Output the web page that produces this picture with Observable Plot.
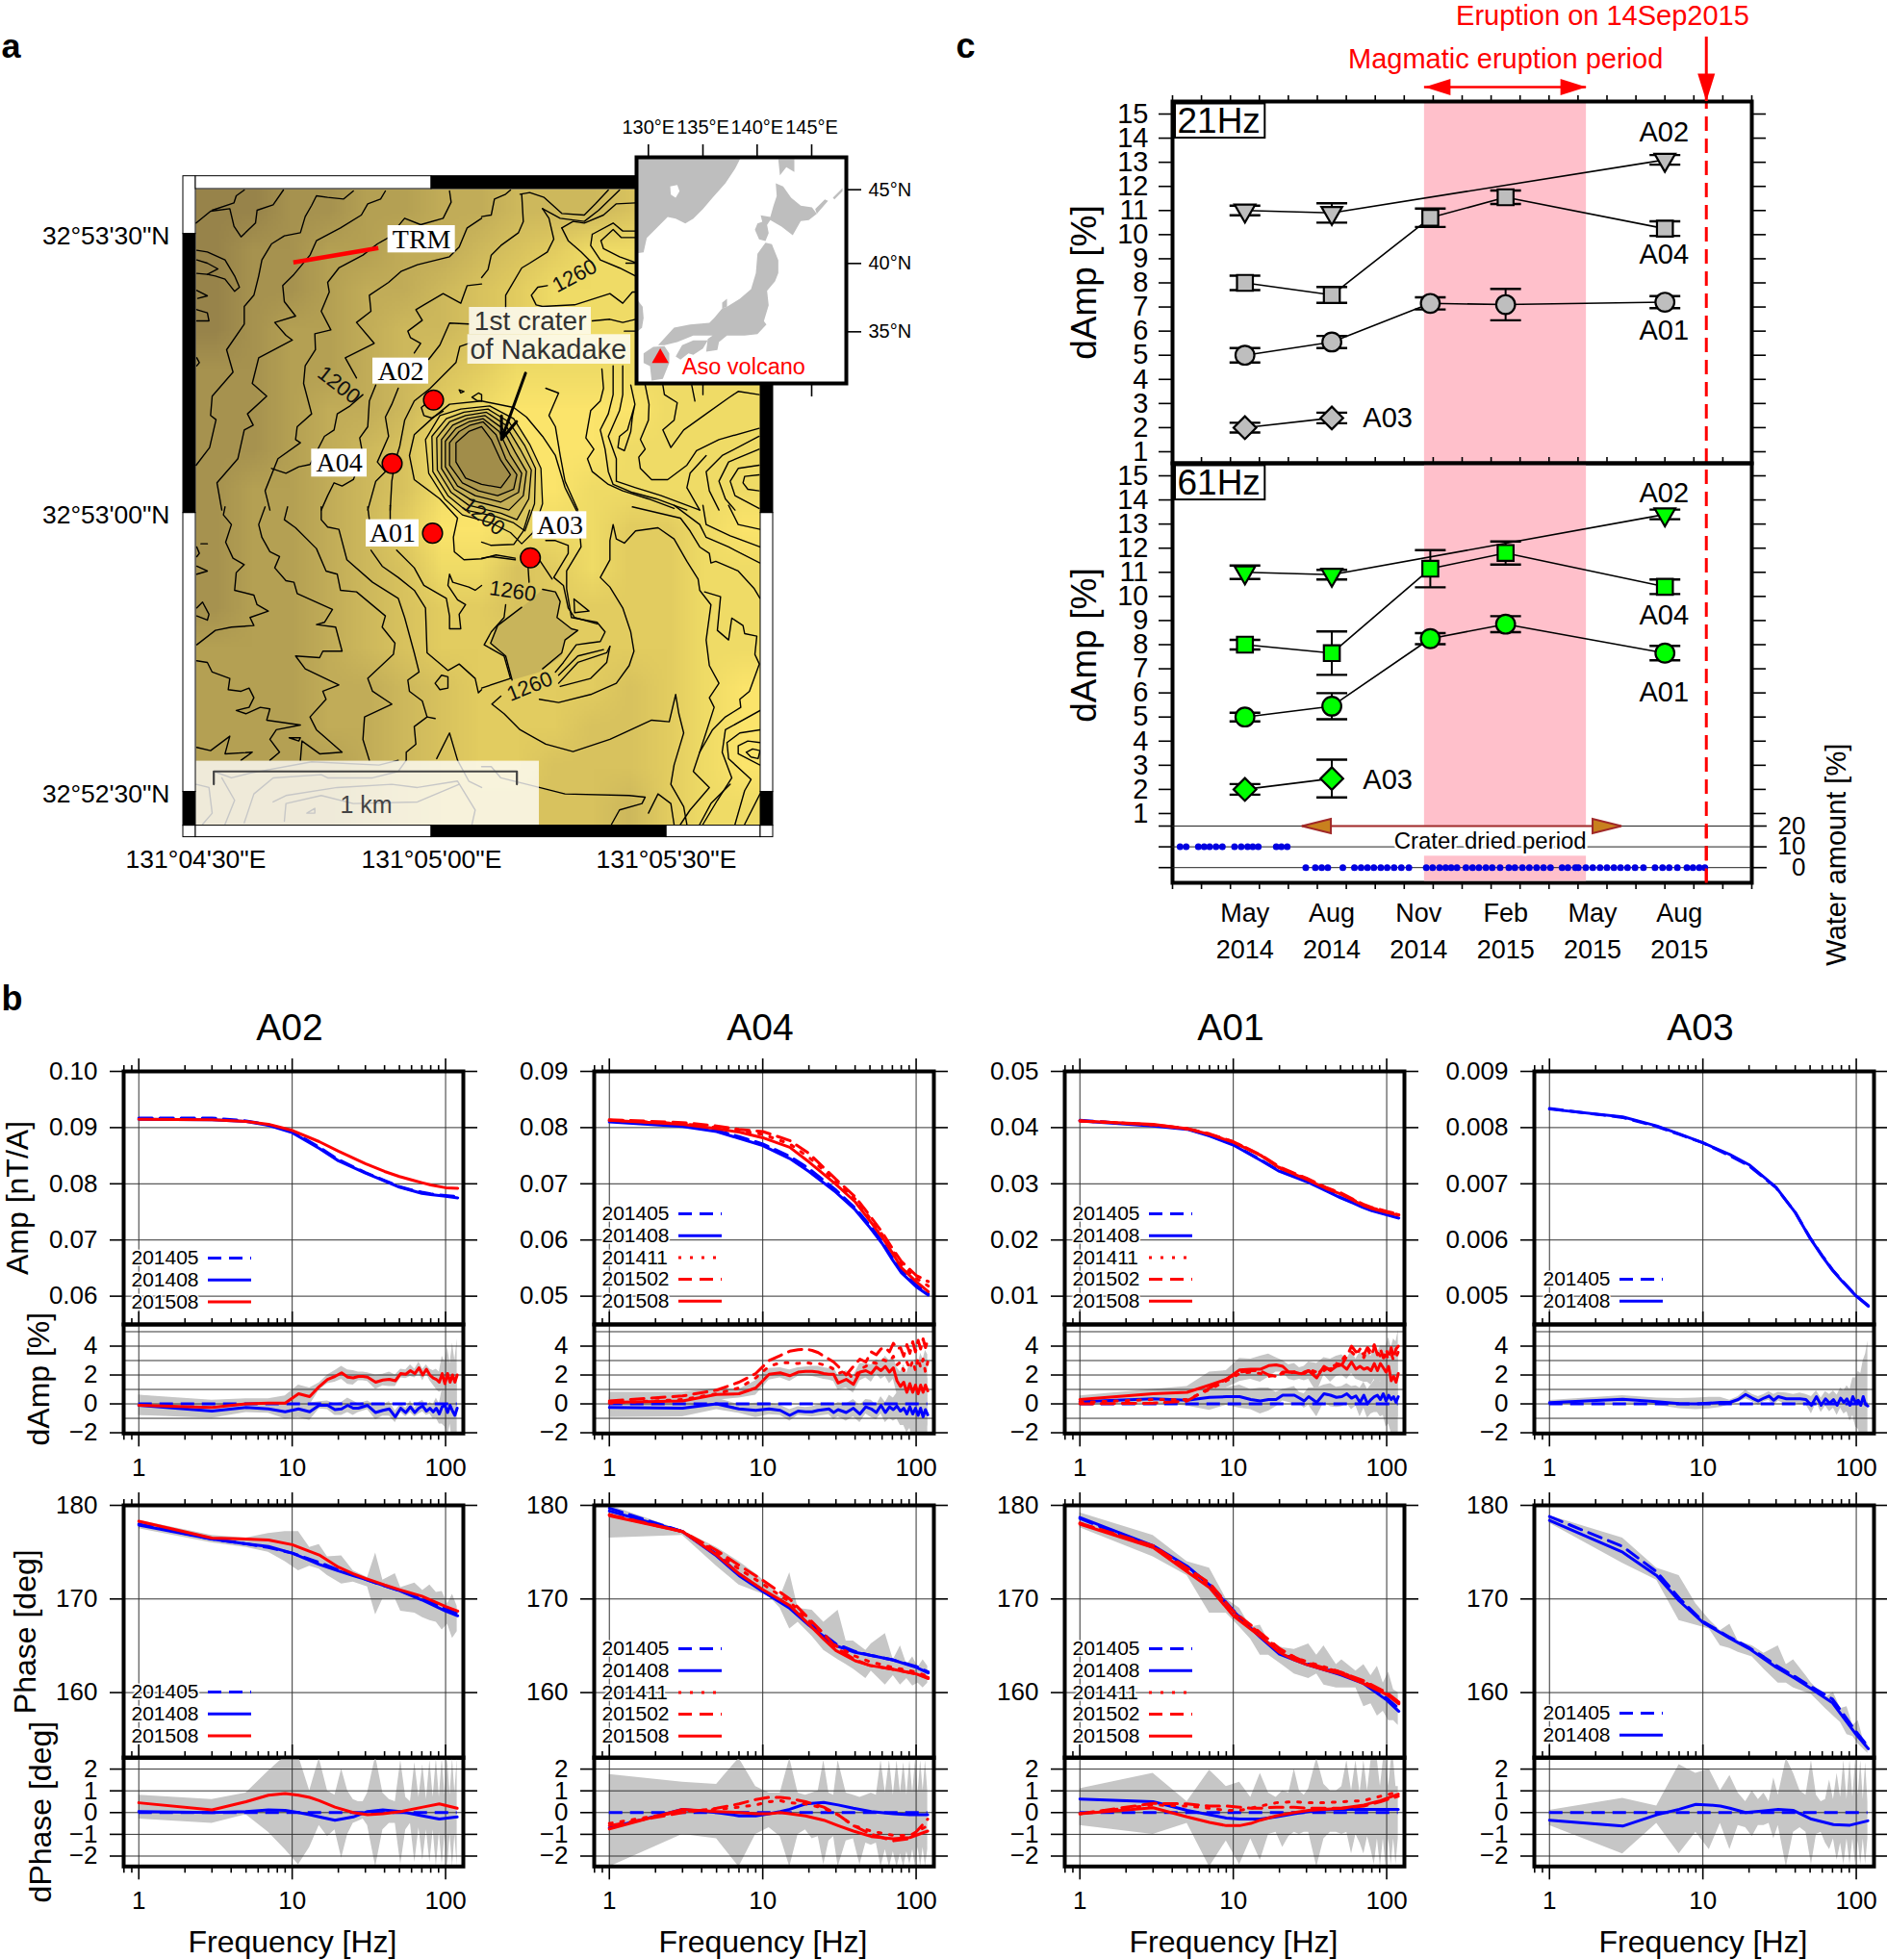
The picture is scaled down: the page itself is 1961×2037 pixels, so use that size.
<!DOCTYPE html>
<html><head><meta charset="utf-8">
<script src="https://cdn.jsdelivr.net/npm/d3@7"></script>
<script src="https://cdn.jsdelivr.net/npm/@observablehq/plot@0.6"></script>
<style>html,body{margin:0;padding:0;background:#fff}#root{position:relative;width:1961px;height:2037px;overflow:hidden;background:#fff}</style>
</head><body><div id="root"></div>
<script>
// ---------- panel c values ----------
const monthsAll=[2.5,5.5,8.9,11.5,17], monthsA02=[2.5,5.5,17], monthsA03=[2.5,5.5];
const d21A02=[11.0,10.9,13.1], e21A02=[.2,.4,.2];
const d21A04=[8.0,7.5,10.7,11.55,10.25], e21A04=[.3,.33,.38,.28,.3];
const d21A01=[5.0,5.55,7.15,7.1,7.2], e21A01=[.3,.25,.25,.65,.25];
const d21A03=[2.0,2.4], e21A03=[.2,.22];
const d61A02=[11.0,10.9,13.4], e61A02=[.28,.2,.2];
const d61A04=[8.0,7.65,11.15,11.8,10.4], e61A04=[.2,.9,.77,.48,.3];
const d61A01=[5.0,5.45,8.25,8.85,7.65], e61A01=[.18,.54,.23,.33,.3];
const d61A03=[2.0,2.45], e61A03=[.22,.78];
const waterWet=[.26,.47,.89,1.09,1.28,1.5,1.72,2.14,2.37,2.59,2.77,2.96,3.58,3.76,3.96];
const waterDry=[4.6,4.93,5.15,5.36,5.88,6.28,6.51,6.73,6.95,7.19,7.41,7.65,7.9,8.16,8.76,8.98,9.22,9.43,9.62,9.82,10.13,10.36,10.58,10.82,11.04,11.31,11.61,11.82,12.08,12.32,12.57,12.81,13.05,13.45,13.65,13.91,14.01,14.27,14.51,14.76,15,15.24,15.47,15.71,15.97,16.26,16.66,16.92,17.15,17.43,17.76,17.97,18.19,18.38];
const monthTicks=[...Array(21).keys()];
const monthLabels=[[2.5,"May","2014"],[5.5,"Aug","2014"],[8.5,"Nov","2014"],[11.5,"Feb","2015"],[14.5,"May","2015"],[17.5,"Aug","2015"]];

// ---------- panel b values ----------
const ampF=[1,3,5,7,10,15,20,30,40,50,60,70,80,100,120];
const ampA02_201405=[.0917,.0917,.0912,.0905,.0893,.0865,.0843,.0820,.0806,.0795,.0789,.0785,.0782,.0779,.0777];
const ampA02_201408=[.0915,.0914,.0911,.0904,.0891,.0863,.0841,.0819,.0805,.0794,.0788,.0783,.0781,.0778,.0775];
const ampA02_201508=[.0915,.0914,.0911,.0906,.0895,.0875,.0858,.0836,.0822,.0813,.0807,.0802,.0798,.0793,.0792];
const ampA04_201405=[.0812,.0804,.0795,.0784,.0771,.0749,.0727,.0689,.0657,.0626,.0597,.0568,.0545,.0520,.0504];
const ampA04_201408=[.0810,.0802,.0793,.0781,.0768,.0745,.0722,.0685,.0654,.0622,.0594,.0565,.0542,.0517,.0502];
const ampA04_201411=[.0813,.0807,.0800,.0795,.0788,.0771,.0747,.0704,.0673,.0639,.0610,.0582,.0557,.0532,.0518];
const ampA04_201502=[.0814,.0809,.0803,.0797,.0793,.0777,.0754,.0708,.0677,.0643,.0614,.0585,.0562,.0537,.0526];
const ampA04_201508=[.0813,.0806,.0798,.0792,.0782,.0765,.0739,.0699,.0668,.0634,.0605,.0577,.0551,.0526,.0508];
const ampA01_201405=[.0413,.0404,.0398,.0386,.0370,.0343,.0323,.0305,.0289,.0276,.0267,.0259,.0253,.0246,.0240];
const ampA01_201408=[.0412,.0403,.0397,.0385,.0369,.0342,.0322,.0304,.0288,.0275,.0266,.0258,.0252,.0245,.0239];
const ampA01_201411=[.0412,.0405,.0398,.0388,.0375,.0351,.0329,.0309,.0293,.0283,.0272,.0263,.0257,.0250,.0245];
const ampA01_201502=[.0412,.0405,.0398,.0389,.0375,.0352,.0330,.0310,.0294,.0284,.0273,.0264,.0258,.0251,.0246];
const ampA01_201508=[.0412,.0406,.0398,.0388,.0374,.0351,.0328,.0308,.0292,.0282,.0271,.0262,.0256,.0249,.0244];
const ampA03_201405=[.00834,.00818,.00802,.00788,.00773,.00750,.00732,.00693,.00649,.00604,.00572,.00547,.00529,.00501,.00483];
const ampA03_201408=[.00833,.00819,.00803,.00789,.00773,.00752,.00734,.00694,.00649,.00603,.00571,.00546,.00528,.00500,.00482];

const fGrid=[1,3,5,7,9,11,13,15,17,19,21,23,25,27,29,31,35,39,43,47,51,55,59,63,67,71,75,79,83,87,91,95,99,103,107,111,115,119];
const dAmpA02_201408=[-.1,-.5,-.25,-.35,-.55,-.35,-.55,-.1,-.1,-.4,-.35,-.1,-.3,-.3,-.2,-.1,-.6,-.45,-.35,-.9,-.3,-.6,-.2,-.6,-.3,-.15,-.5,-.3,-.55,-.3,-.7,-.2,-.1,-.6,-.1,-.5,-.8,-.3];
const dAmpA02_201508=[-.1,-.25,0,.05,.05,.7,.5,1.2,1.7,1.9,2.15,1.85,1.8,1.9,1.9,1.85,1.5,1.65,1.7,1.6,2.1,2.05,2.3,2.1,2.5,2,2.4,2,1.8,1.7,1.5,2.1,1.4,2.1,1.5,2,1.5,2];
const dAmpErrA02=[.7,.5,.35,.3,.5,.6,.6,.25,.3,.4,.45,.5,.5,.3,.3,.3,.5,.4,.5,.4,.3,.3,.4,.3,.4,.4,.3,.4,.5,.7,.7,1.2,1.5,1.8,1.3,2.2,1.5,2.5];
const dAmpA04_201408=[-.25,-.3,0,-.35,-.45,-.35,-.45,-.8,-.5,-.55,-.55,-.45,-.4,-.35,-.6,-.4,-.6,-.3,-.7,-.2,-.35,-.6,-.1,-.6,-.2,-.4,-.15,-.5,-.3,-.7,-.2,-.7,-.3,-.8,-.3,-.9,-.4,-.75];
const dAmpA04_201411=[.05,.3,.7,1.1,1.8,2.6,2.85,2.85,2.8,2.85,2.8,2.8,2.7,2.6,2.4,2.1,2.3,1.7,2.4,2.6,2.9,2.8,3.1,3,2.9,3.3,2.7,2.9,2.3,2.9,2.4,3,2.3,3.2,2.5,3.1,2.2,2.9];
const dAmpA04_201502=[.2,.55,.95,1.5,2.1,3,3.35,3.65,3.75,3.8,3.7,3.55,3.3,3.1,2.9,2.6,2,2.6,3.1,2.9,3.6,3.4,3.8,3.9,3.6,4.2,3.8,3.9,3.3,4.1,3.5,4.3,3.6,4.4,3.8,4.5,3.9,4.4];
const dAmpA04_201508=[.1,.2,.65,.7,1.1,2.05,2.15,1.95,2.2,2.25,2.25,2.2,2.1,2.05,2.05,1.45,1.7,1.35,2.2,2.3,2.1,2.55,2.3,2.6,2.2,2.5,1.6,1.2,1.5,.8,1.4,.8,1.3,.7,1.3,.8,1.3,.9];
const dAmpErrA04=[.7,.6,.4,.3,.5,.4,.35,.4,.3,.3,.35,.4,.4,.4,.5,.5,.6,.6,.6,.5,.6,.5,.6,.7,.8,.8,.9,1,1.2,1.3,1.5,1.7,1.8,2,2.2,2.3,2.4,2.5];
const dAmpA01_201408=[.15,.35,.25,.45,.5,.5,.3,.2,.3,.3,.6,.6,.6,.4,.2,.5,.1,.7,.6,.45,.5,.7,.4,.55,.1,.6,0,.3,.5,.6,.3,.7,.2,.6,.3,.5,.1,.5];
const dAmpA01_201411=[.1,.3,.3,1,1.6,2.1,2.2,2.1,1.9,2,2.1,2.1,2.2,2.2,2.1,2.4,2.2,2.3,2.6,2.7,3,3.5,3.6,3.3,3.8,3.2,3.8,3.3,3.9,3.6,3.3,3,3.8,3.3,3.5,3,3.2,3.6];
const dAmpA01_201502=[0,.05,.2,1.1,1.7,2.2,2.3,2.3,2,1.9,2.2,2.2,2.2,2,2.2,2.3,2,2.5,2.4,2.8,2.7,3.3,4,3.6,3.7,3.4,3.9,3.6,4.1,3.4,3.8,3.2,3.4,3.1,3.9,3.2,3.8,4];
const dAmpA01_201508=[.3,.7,.8,1.3,1.7,2.35,2.4,2.4,2.65,2.7,2.6,2.2,2.2,2.1,2.1,2.3,1.8,2.6,2.3,2.6,2.7,2.4,2.9,2.4,2.6,2.4,2.5,2.3,2.8,2.3,2.8,2.5,2.2,2.6,1.6,1.9,1.5,2.1];
const dAmpErrA01=[.25,.3,.4,.9,.6,.8,.7,.9,.8,.5,.4,.5,.6,.4,.5,.6,1,.6,.8,.7,.7,.7,.8,.7,1,.9,1,1,1.1,1.2,1.2,1.5,1.8,2,2.3,2.6,2.8,3];
const dAmpA03_201408=[.08,.32,.15,.02,0,.05,.1,.1,.3,.65,.4,.2,.4,.55,.25,.5,.35,.35,.35,.3,-.1,.5,-.1,.35,.05,.3,-.1,.4,.1,.35,-.1,.5,.1,.25,-.1,.5,-.05,-.15];
const dAmpErrA03=[.15,.25,.25,.35,.4,.4,.35,.15,.2,.3,.25,.3,.25,.3,.4,.3,.4,.3,.4,.35,.6,.4,.5,.5,.6,.6,.7,.7,.8,.9,1.1,1.3,1.7,2,2.2,2.5,3.5,4.5];

const phaseF=[1,3,5,7,10,15,20,25,30,40,50,70,100,120];
const phaseA02_201405=[178,176.4,175.9,175.5,174.9,173.9,173.1,172.6,172.1,171.4,170.9,170.1,169,168.4];
const phaseA02_201408=[177.9,176.4,175.9,175.6,174.9,173.7,173,172.5,172.1,171.4,170.9,169.9,168.7,168.2];
const phaseA02_201508=[178.3,176.5,176.4,176.3,175.8,174.7,173.4,172.7,172.2,171.5,171,170.3,169.2,168.7];
const phaseA04_201405=[179.7,177.2,174.8,172.7,170.9,169.1,167.4,166.2,165.2,164.4,164,163.5,162.8,162.2];
const phaseA04_201408=[179.4,177.2,174.6,172.5,170.8,169,167.2,166,165,164.3,164,163.5,162.7,162.1];
const phaseA04_201411=[179,177.2,175,173.2,171.6,169.7,167.7,166.2,165,163.9,163.3,162.7,162.2,161.7];
const phaseA04_201502=[179,177.2,175.2,173.6,172,170,167.9,166.3,164.8,163.5,162.9,162.5,162,161.6];
const phaseA04_201508=[178.9,177.2,174.7,172.7,171,169.3,167.3,165.7,164.5,163.4,162.9,162.5,162,161.5];
const phaseA01_201405=[178.6,175.5,173.3,171.6,168.8,166,164.3,163.6,163.1,162.5,162,161.1,159.4,158.3];
const phaseA01_201408=[178.7,175.7,173.5,171.5,168.7,165.9,164.1,163.5,163,162.4,161.9,161,159.2,158];
const phaseA01_201411=[178.1,175.6,173.1,171.5,168.5,166.3,164.6,163.8,163.3,162.7,162.2,161.2,159.9,158.9];
const phaseA01_201502=[178.1,175.7,173.3,171.7,168.7,166.4,164.7,163.8,163.2,162.6,162.2,161.3,160,159];
const phaseA01_201508=[178,175.5,172.9,171.2,168.2,166,164.3,163.5,163,162.4,162,161,159.8,158.8];
const phaseA03_201405=[178.8,175.6,172.9,170.1,167.6,165.9,164.8,163.8,162.9,161.7,160.7,159.3,155.8,154.2];
const phaseA03_201408=[178.4,175,172.5,169.8,167.5,165.8,164.7,163.6,162.7,161.5,160.5,158.9,155.5,154];

const bandF=[1,3,5,7,9,11,13,15,17,21,25,31,35,39,47,51,63,71,79,87,95,103,111,119];
const phaseHiA02=[178.4,176.8,176.5,177,177.2,177.2,175.5,175.8,174.5,174.6,173,172.3,174.9,172,172.7,171.2,171.7,170.9,171.5,170.7,170.8,169.5,170.5,169.2];
const phaseLoA02=[177.5,176,175.5,175,174,173,173.5,173.2,172.5,171.6,171.8,171.3,168.3,170,170,168.7,168.5,168,167.7,167.5,166.7,167.3,165.8,166.5];
const phaseHiA04=[180,177.3,175.5,174,172.7,171.5,170.2,172.8,169,168.8,167.5,168.8,165.5,165.5,164.5,165.2,166.3,163.5,165,163,163.8,162.7,163.5,162.8];
const phaseLoA04=[176.5,176.8,173.5,171.5,170.8,170.3,169,166.8,167.5,166,164.5,163.5,163,162.5,161.5,162.3,160.8,161.8,160.8,161.5,160.7,161,160.5,161];
const phaseHiA01=[179.2,176.8,174,173.3,170,169,167,167.2,165.5,164.8,164.6,165.2,164,165,163,163.5,162.3,163,161.8,162.8,161,162.2,160.3,160];
const phaseLoA01=[177.6,174.5,172.5,168.5,168.5,167,165.7,164,164,162.9,162,161.5,162,160.8,160.5,160.5,160.5,158.5,158.8,157.5,158,157,157,156.5];
const phaseHiA03=[178.9,176.5,173.3,172.5,169.5,167.8,166.6,167.3,165.5,165,164.2,165,163,163.5,161.8,161,159.5,160,158.3,158.5,156.5,157,155,154.5];
const phaseLoA03=[178.1,173.8,172,167.7,167.2,166.8,165,164.7,164.3,163.8,162.5,161,161,160.5,160,159.8,158.3,157.5,156.8,155.5,155.3,154.5,154,153.5];

const dPhaseF=[1,3,5,7,9,11,13,15,19,25,31,39,51,71,91,119];
const dPhaseA02_201408=[.05,0,.05,.12,.1,0,-.1,-.2,-.35,-.2,.05,.12,.05,-.15,-.3,-.2];
const dPhaseA02_201508=[.45,.12,.5,.8,.88,.8,.7,.55,.25,0,-.1,-.05,.05,.25,.4,.2];
const dPhaseA04_201408=[-.7,.15,0,-.15,-.15,-.05,.05,.15,.4,.47,.35,.2,.05,-.05,-.1,-.1];
const dPhaseA04_201411=[-.5,.05,.15,.25,.35,.5,.55,.45,.4,.2,-.1,-.6,-.85,-1.05,-1.05,-.6];
const dPhaseA04_201502=[-.6,0,.2,.4,.6,.7,.7,.65,.5,.25,-.1,-.6,-1,-1.3,-1.2,-.3];
const dPhaseA04_201508=[-.75,.15,.05,0,-.05,-.05,0,-.05,-.15,-.35,-.6,-.85,-1.1,-1.2,-1.15,-.85];
const dPhaseA01_201408=[.62,.5,.1,-.1,-.25,-.3,-.3,-.3,-.2,-.05,.05,.12,.15,.15,.15,.15];
const dPhaseA01_201411=[-.05,.35,.3,.2,.1,.1,.2,.3,.45,.5,.45,.45,.5,.55,.75,.95];
const dPhaseA01_201502=[-.05,.42,.4,.3,.3,.25,.2,.2,.25,.25,.2,.2,.2,.3,.5,.75];
const dPhaseA01_201508=[-.05,.22,-.2,-.45,-.6,-.6,-.5,-.35,-.15,0,.1,.15,.2,.35,.55,.85];
const dPhaseA03_201408=[-.35,-.62,-.1,.15,.38,.35,.3,.2,0,.08,.15,.1,-.3,-.55,-.58,-.38];
const dPhaseHiA02=[.8,.6,.9,1.9,2.6,2.6,1,2.5,1,.8,2,1,.6,.5,.5,.9,2.6,.9,.6,.5,2.4,.7,.5,2.3,.7,2.2,.6,2.4,.7,2.5,.7,2.5,.8,2.5,.8,2.5,.9,2.5];
const dPhaseLoA02=[-.3,-.5,-.1,-.9,-1.7,-2.4,-1.6,-.6,-1.1,-.8,-2.1,-1,-.5,-.4,-.3,-.6,-2.5,-.8,-.5,-.5,-2.4,-.8,-.5,-2.3,-.7,-2.2,-.8,-2.3,-.8,-2.5,-.9,-2.4,-1,-2.5,-1,-2.5,-1,-2.5];
const dPhaseHiA04=[1.75,1.4,1.3,2.5,1.2,.9,.9,2.5,.9,.8,.9,1,2.4,.9,.8,2.4,.9,.8,.7,.8,.9,.8,2.4,.9,2.4,.8,2.4,.9,2.3,.8,2.4,.9,2.4,.9,2.4,1,2.4,1];
const dPhaseLoA04=[-2.5,-1,-1.2,-2.5,-1,-.7,-1.1,-2.5,-1,-.8,-1.2,-1.1,-2.4,-1.3,-1.1,-2.5,-1.3,-1.2,-2.4,-1.4,-1.5,-1.4,-2.5,-1.7,-2.5,-1.8,-2.5,-1.9,-2.5,-1.8,-2.4,-1.7,-2.5,-1.6,-2.5,-1.6,-2.5,-1.7];
const dPhaseHiA01=[1.1,1.8,.5,1.95,1.2,1.4,.7,1.8,.9,.7,1,.9,2,1,.8,1.1,2.5,1.3,1,1,1.2,2.4,1,2.4,.9,2.4,1,2.4,2.4,2.4,1.2,2.4,2.4,1.2,2.4,2.4,1.2,1.2];
const dPhaseLoA01=[-.6,-1,-.5,-2.5,-1.3,-2.4,-1.2,-2.2,-1,-.9,-1.6,-1.1,-.9,-1,-.9,-.9,-2.5,-1.2,-.9,-.9,-1,-.9,-1.9,-1,-1.4,-1.9,-1.1,-1.7,-2.4,-1.2,-2.5,-1.2,-2.5,-1.2,-2.4,-1.2,-2.4,-1.2];
const dPhaseHiA03=[.1,.65,.3,2.2,1.8,2,1,1.7,.9,.5,1,.6,.9,.5,1.6,.8,2.5,1.8,1,.8,2.4,.8,.5,.6,1.5,.6,1.8,.7,2.4,.6,2.4,.7,2.4,.8,2.4,.6,2.3,.5];
const dPhaseLoA03=[-.6,-1.9,-.5,-1.9,-.9,-1.7,-.5,-1.7,-.6,-.7,-1.1,-.6,-.6,-.5,-1.2,-.6,-2.5,-.9,-.7,-.9,-2.4,-1,-.9,-1.4,-1.7,-1.2,-2.2,-1.4,-2.4,-1.2,-2.4,-1.2,-2.4,-1.3,-2.4,-1.2,-2.4,-1.2];

// ---------- panel a values: elevation shade grid, contours read in map-grid units ----------
const shadeCols=15, shadeRows=16;
const shadeGrid=[
1,1,2,2,3,3,4,4,5,5,5,6,7,8,9,
1,2,2,3,3,4,4,5,6,7,8,8,8,8,9,
1,2,2,3,4,4,5,6,7,8,8,8,8,8,8,
1,2,3,3,4,5,5,6,7,8,8,8,8,8,8,
2,2,3,3,4,5,6,7,8,8,8,8,8,8,8,
2,2,3,4,4,5,7,8,9,9,9,9,8,8,8,
2,2,3,4,5,6,8,9,9,9,9,8,8,8,8,
2,3,3,4,5,6,8,9,9,9,8,8,8,8,8,
2,3,3,4,5,7,9,9,8,8,8,7,7,8,9,
2,3,3,4,5,6,8,8,6,7,8,7,7,8,8,
2,3,3,4,5,6,7,7,6,7,7,7,7,8,8,
3,3,3,4,5,6,7,7,7,7,7,7,7,8,8,
3,3,3,4,4,5,6,7,7,7,7,6,7,8,9,
3,3,3,4,4,5,6,7,7,7,6,6,7,8,9,
3,3,3,3,4,5,6,7,7,6,6,6,7,8,9,
3,3,3,3,4,5,6,6,6,6,6,5,7,8,8];
const contoursNW=[
[[10,125],[55,88],[115,80],[128,135],[150,168],[195,125],[200,85],[250,68],[282,22]],
[[160,22],[135,40],[128,62],[60,85]],
[[12,210],[45,215],[100,240],[130,290],[145,325],[130,338],[100,300],[70,290],[45,285],[12,282]],
[[12,240],[45,250],[78,268],[45,285]],
[[12,335],[45,352],[15,360]],[[12,395],[45,405],[50,430],[12,430]],[[12,545],[20,560],[12,570]],
[[500,25],[470,50],[420,45],[385,40],[370,70],[350,105],[335,155],[285,165],[245,190],[215,240],[205,290],[190,350],[160,385],[160,440],[105,520],[125,590],[60,665],[55,725],[72,738],[52,825],[10,880]],
[[600,25],[585,50],[545,65],[525,100],[460,140],[385,180],[365,225],[315,285],[280,320],[285,370],[320,415],[255,435],[290,475],[310,490],[205,545],[185,625],[230,665],[170,720],[188,755],[160,770],[140,860],[75,935],[90,1020]],
[[800,25],[805,60],[780,110],[710,130],[660,110],[610,170],[575,190],[530,225],[455,265],[420,310],[425,340],[400,400],[430,458],[380,470],[382,520],[350,570],[345,625],[370,720],[325,760],[320,800],[335,810],[265,860],[225,960],[240,1020]],
[[900,110],[855,140],[830,200],[800,230],[700,255],[650,275],[610,310],[550,350],[555,400],[510,435],[565,500],[475,545],[510,608]],
[[530,660],[490,695],[450,720],[440,770],[410,790],[365,878],[330,885],[290,905],[245,890]],
[[900,315],[855,320],[835,375],[780,345],[720,380],[695,395],[715,428],[670,462],[678,482],[710,500],[690,530]],
[[570,630],[550,680],[545,760],[520,795],[530,850],[500,925],[465,945],[440,935],[420,975],[400,1020]],
[[860,440],[800,437],[770,505],[735,550]],
[[640,640],[620,690],[600,730],[610,790],[575,870],[600,900],[570,930],[545,1020]],
[[860,500],[832,510],[820,560],[740,640],[690,680],[660,740],[645,820],[630,870],[620,930],[615,1020]],
[[725,690],[712,700],[720,725],[745,733],[780,712]],
[[830,645],[845,650],[835,655],[830,645]],[[870,668],[890,655],[900,660],[900,680],[885,678],[870,668]]];
const contoursNE=[
[[0,105],[30,100],[40,50],[75,35],[90,22]],
[[125,35],[130,120],[115,155],[60,195],[30,225],[20,270],[0,295]],
[[120,35],[150,30],[195,45],[250,95],[320,100],[355,65],[395,22]],
[[190,80],[210,110],[225,175],[205,215],[150,250],[125,265],[75,350],[75,390]],
[[190,80],[245,110],[320,120],[365,85],[430,22]],
[[250,140],[285,120],[320,125],[380,100],[420,65],[480,62]],
[[250,140],[270,180],[310,215],[345,250]],
[[345,160],[410,125],[440,150],[480,150]],
[[372,180],[410,145],[435,170],[480,170]],
[[372,180],[380,205],[430,230],[480,248]],
[[345,160],[340,195],[370,240],[430,265],[480,290]],
[[450,250],[480,250]],
[[205,320],[175,325],[155,350],[170,380],[190,385],[290,380],[400,345],[440,375],[470,340],[485,340]],
[[345,430],[400,425],[440,435],[480,425]],[[445,462],[480,462]],
[[375,580],[380,640],[370,680],[340,710],[325,795],[350,830],[330,860],[345,900],[395,940],[440,960],[520,985],[600,1015]],
[[410,570],[410,660],[395,720],[370,770],[385,830],[395,900],[410,940],[470,965],[545,985],[640,1020]],
[[440,570],[440,660],[430,710],[395,790],[420,860],[420,930],[480,950],[560,975],[680,1020]],
[[465,630],[478,690],[455,770],[430,790],[425,825],[445,835],[465,775],[470,730],[478,690]],
[[510,630],[522,690],[520,740],[495,800],[510,830],[490,855],[495,890],[530,925],[580,925],[640,880],[670,835],[740,800],[865,765]],
[[565,630],[570,660],[610,685],[600,740],[565,770],[590,825],[630,770],[700,720],[770,670],[800,650],[865,660]],
[[655,630],[665,680]],[[690,630],[690,660]],
[[865,910],[820,915],[815,935],[830,955],[865,960]],
[[865,880],[800,890],[775,930],[790,975],[865,1015]],
[[865,830],[770,870],[740,930],[760,985],[790,1020]],
[[865,790],[750,850],[700,900],[710,960],[740,1020]],
[[700,850],[650,905],[640,950],[680,1020]],
[[200,640],[240,655],[210,725],[230,760],[245,850],[260,930],[300,1020]]];
const contoursSW=[
[[100,5],[95,30],[120,60],[102,115],[125,165],[160,185],[135,210],[130,265],[190,280],[200,310],[235,330],[178,350],[190,375],[120,380],[70,390],[12,435]],
[[225,5],[205,60],[215,100],[240,145],[270,160],[255,195],[290,235],[315,240],[325,275],[380,300],[435,325],[410,365],[385,372],[445,380],[465,455],[405,455],[395,475],[320,470],[350,510],[455,560],[405,580],[415,605],[365,660],[385,700],[465,770],[395,775],[340,735],[335,795]],
[[295,5],[285,45],[320,70],[385,135],[415,205],[450,215],[460,265],[510,270],[600,345],[590,380],[630,430],[625,465],[545,540],[560,580],[620,620],[535,660],[530,730],[550,795]],
[[400,5],[400,45],[420,68],[455,75],[480,170],[560,240],[640,290],[660,350],[690,460],[705,520],[670,545],[675,580],[715,610],[730,660],[690,690],[695,745],[665,770],[665,795],[640,830],[560,850],[420,850],[400,840],[250,850],[190,900],[160,990]],
[[545,5],[550,45]],
[[555,140],[590,190],[640,225],[690,265],[725,320],[730,460],[795,515],[830,495],[880,540],[890,585],[900,575]],
[[615,0],[615,45]],[[635,140],[690,195],[720,250],[790,290],[800,345],[800,385],[835,385],[830,340],[850,310],[825,295],[795,250],[800,215],[810,240],[860,255],[880,265],[900,250]],
[[755,555],[770,575],[795,570],[795,535],[775,530],[755,555]],
[[12,320],[30,302],[50,340],[45,358],[12,345]],[[12,130],[20,150],[12,160]],[[12,190],[45,205],[12,215]],[[25,120],[45,120]],
[[12,485],[45,490],[60,520],[115,540],[110,575],[150,580],[175,570],[190,600],[175,630],[135,640],[165,650],[210,630],[240,635],[230,670],[335,685],[260,700],[240,730],[270,770],[240,795]],
[[12,755],[55,765],[115,720],[100,775],[185,770],[150,795]],
[[300,725],[335,725],[330,735],[300,725]],[[730,660],[755,665]],
[[760,790],[800,710],[825,795],[860,860],[900,880]],
[[65,830],[120,850],[180,835],[370,800],[580,810],[640,795]],
[[250,925],[290,905],[450,880],[620,870],[700,880],[825,860],[880,950],[870,995]],
[[285,985],[290,930],[400,905],[500,930],[700,925],[830,870]],
[[90,850],[130,920],[100,995]],[[10,870],[50,880],[60,960],[30,995]],[[355,960],[380,945],[380,960],[355,960]]];
const contoursSE=[
[[180,605],[240,615],[340,590],[420,555],[460,500],[475,455],[465,395],[440,320],[400,255],[370,225],[400,170],[400,110],[410,60],[420,105],[445,118],[480,80],[550,70],[600,105],[640,175],[675,230],[680,265],[715,310],[700,420],[710,500],[740,555],[710,600],[725,630],[680,770],[660,830],[710,880],[650,950],[620,995]],
[[60,595],[32,620],[70,650],[120,700],[200,745],[285,768],[400,730],[530,670],[585,675],[605,590],[615,650],[630,710],[600,810],[590,870],[630,940],[640,995]],
[[0,815],[30,815],[60,850],[180,880],[260,900],[460,905],[510,910],[500,930],[430,950],[405,995]],
[[520,960],[550,900],[590,930],[600,995]],
[[190,262],[230,270],[245,300],[235,350],[280,385],[300,390],[260,420],[250,460],[190,510]],
[[75,310],[70,350],[30,395],[8,435],[70,470],[90,540],[0,570]],
[[125,318],[50,375],[28,430],[75,470],[95,545]],
[[0,165],[30,160],[105,170]],[[145,195],[148,240]],[[0,115],[30,125],[100,122],[130,80],[150,15]],
[[225,225],[270,150],[270,125],[230,110],[200,110]],
[[300,20],[310,130],[265,205],[265,260],[280,350],[360,365],[385,395],[370,425],[330,430],[295,435],[255,490],[230,520]],
[[225,225],[255,250],[270,320],[290,350],[360,370]],
[[288,292],[335,330],[290,335],[288,292]],
[[400,440],[390,460],[300,490],[240,555]],[[400,440],[390,490],[340,540],[245,565]],[[380,450],[300,470],[240,530]],
[[470,5],[620,40],[650,80],[680,130],[710,150],[715,180],[730,175],[800,205],[850,260],[868,290]],
[[600,0],[680,60],[700,100],[770,130],[868,180]],[[690,0],[700,60],[775,95],[868,130]],[[770,0],[800,60],[868,75]],
[[695,270],[745,285],[735,390],[770,420],[780,352],[815,375],[820,400],[858,408],[852,465],[866,495],[835,580],[805,605],[808,630],[760,660],[720,700],[680,770]],
[[825,770],[845,760],[868,765],[862,790],[840,785],[825,770]],
[[868,740],[830,735],[800,750],[800,775],[868,810]],
[[868,700],[805,710],[765,740],[770,790],[840,855],[820,890],[790,995]],
[[868,640],[760,700],[750,770],[780,850],[735,920],[690,995]],
[[775,870],[715,930],[680,995]],[[868,900],[820,995]]];
const craterRings=[
{fill:"#e8d363",pts:[[835,705],[925,695],[1000,735],[1050,815],[1085,890],[1090,1000],[1060,1090],[1025,1125],[990,1090],[930,1060],[840,1035],[785,985],[735,905],[725,800],[770,725]]},
{fill:"#dcc75f",pts:[[845,715],[920,705],[985,745],[1035,820],[1068,890],[1065,1000],[1035,1085],[1000,1060],[945,1040],[850,1020],[795,975],[748,900],[745,790],[790,735]]},
{fill:"#d0bb5b",pts:[[850,725],[915,715],[975,755],[1020,830],[1055,895],[1047,985],[1010,1050],[960,1030],[860,1005],[805,965],[762,895],[760,795],[800,745]]},
{fill:"#c4af57",pts:[[855,735],[910,725],[965,765],[1005,840],[1040,900],[1030,975],[985,1020],[950,1010],[870,990],[815,955],[775,890],[775,800],[810,755]]},
{fill:"#b8a352",pts:[[860,745],[905,735],[955,775],[990,850],[1025,905],[1015,965],[960,995],[880,975],[825,945],[787,885],[787,805],[820,765]]},
{fill:"#ab974e",pts:[[865,755],[905,745],[945,785],[975,860],[1010,910],[1000,955],[950,975],[890,960],[840,935],[800,880],[800,810],[830,775]]},
{fill:"#a18d4a",pts:[[860,775],[900,760],[930,800],[960,865],[990,910],[960,950],[900,940],[850,920],[820,870],[820,810]]}];
const craterOuter=[[900,680],[800,690],[745,735],[690,785],[675,850],[690,925],[770,985],[825,1045],[812,1105],[815,1150],[845,1175],[900,1172],[945,1160],[1005,1170]];
const craterOuter2=[[1080,1175],[1120,1235]];
const craterOuter3=[[900,680],[1000,700],[1040,730],[1090,790],[1130,850],[1160,950],[1200,1030]];
const basinSE=[[125,318],[50,375],[28,430],[75,470],[95,545],[180,520],[250,470],[260,420],[300,390],[280,385],[235,350],[245,300],[230,270],[190,262],[160,290]];
const stations=[{name:"A02",x:750,y:677,bx:[561,735],by:[546,627]},{name:"A04",x:621,y:875,bx:[370,543],by:[830,917]},{name:"A01",x:747,y:1092,bx:[540,705],by:[1050,1135]},{name:"A03",x:1052,y:1169,bx:[1060,1228],by:[1025,1110]}];
const contourLabels=[{t:"1200",x:455,y:630,r:38},{t:"1200",x:906,y:1040,r:38},{t:"1260",x:1190,y:290,r:-28},{t:"1260",x:997,y:1273,r:8},{t:"1260",x:1050,y:1570,r:-22}];
const frameBlack=[[-30,9,159,1029],[-30,9,1899,2004],[744,1476,-21,19],[1476,1770,-21,19],[744,1476,2004,2040],[1770,1809,19,1029],[1770,1809,1899,2004]];
const frameWhite=[[-30,9,-21,159],[-30,9,1029,1899],[-30,9,2004,2040],[9,744,-21,19],[9,744,2004,2040],[1476,1770,2004,2040],[1770,1809,1029,1899],[1770,1809,2004,2040]];

// ---------- inset outlines, read in inset-grid units ----------
const insetLonTicks=[[100,"130°E"],[270,"135°E"],[439,"140°E"],[609,"145°E"]];
const insetLatTicks=[[260,"45°N"],[490,"40°N"],[703,"35°N"]];
const mainland=[[63,160],[388,160],[370,195],[340,240],[300,285],[270,320],[240,350],[215,365],[185,350],[160,345],[125,380],[95,410],[85,455],[63,458]];
const lake=[[168,250],[190,245],[197,265],[185,285],[170,275]];
const korea=[[63,600],[82,625],[85,660],[80,690],[63,705]];
const hokkaido=[[497,240],[520,250],[545,285],[575,310],[610,315],[625,335],[600,355],[575,358],[550,402],[515,375],[480,355],[470,370],[475,395],[465,420],[445,415],[432,385],[440,365],[455,360],[450,340],[480,345],[490,310],[500,280]];
const sakhalin=[[505,165],[555,165],[555,205],[530,190],[510,215]];
const kurile1=[[620,320],[650,290],[660,295],[625,335]];
const kurile2=[[675,285],[705,255],[705,265],[680,290]];
const honshu=[[465,425],[485,430],[505,480],[505,520],[495,545],[470,575],[475,620],[460,670],[468,680],[440,710],[400,715],[345,715],[320,735],[315,760],[280,765],[285,725],[300,715],[240,715],[190,735],[150,745],[130,745],[180,690],[230,680],[290,675],[305,660],[330,630],[345,625],[385,600],[420,570],[435,520],[440,460]];
const noto=[[330,612],[345,600],[345,625],[330,630]];
const shikoku=[[205,745],[240,730],[285,730],[270,755],[240,775],[225,770],[200,790],[185,780]];
const kyushu=[[85,770],[115,750],[150,748],[165,770],[165,800],[145,850],[110,855],[105,810],[85,800]];
const asoPoint=[[137,785]];

// ---------- helpers ----------
const SANS="'Liberation Sans',Arial,sans-serif", SERIF="'Liberation Serif',serif";
const root=document.getElementById("root");
function put(left,top,w,h,o){
  const svg=Plot.plot({width:w,height:h,marginTop:0,marginRight:0,marginBottom:0,marginLeft:0,
    ...o,style:{position:"absolute",left:left+"px",top:top+"px",overflow:"visible",background:"transparent",color:"#000",fontFamily:SANS,fontSize:"25px"}});
  root.appendChild(svg);return svg;
}
const zip=(xs,ys)=>xs.map((x,i)=>({x,y:ys[i]}));
const hideText={fill:"none",label:null};
const STY={"201405":{stroke:"#0000ff",strokeDasharray:"14,8"},"201408":{stroke:"#0000ff"},"201411":{stroke:"#ff0000",strokeDasharray:"3,9"},"201502":{stroke:"#ff0000",strokeDasharray:"14,8"},"201508":{stroke:"#ff0000"}};
const ORDER=["201405","201408","201411","201502","201508"];
const seriesMarks=(fs,table)=>ORDER.filter(k=>table[k]).map(k=>Plot.line(zip(fs,table[k]),{x:"x",y:"y",strokeWidth:3,clip:true,...STY[k]}));
const minor=[.8,.9,2,3,4,5,6,7,8,9,20,30,40,50,60,70,80,90];
const major=[1,10,100];
const X={lo:.7966,hi:130.5};
function xTicks(anchor,labelled){
  return [Plot.axisX({anchor,ticks:minor,tickSize:7,strokeWidth:1.6,...hideText}),
    labelled?Plot.axisX({anchor,ticks:major,tickSize:14,tickPadding:12,strokeWidth:1.6,label:null,tickFormat:d=>String(d),fontSize:26})
            :Plot.axisX({anchor,ticks:major,tickSize:14,strokeWidth:1.6,...hideText})];
}
function yTicks(ticks,fmt){
  return [Plot.axisY({anchor:"left",ticks,tickSize:14,tickPadding:13,strokeWidth:1.6,label:null,tickFormat:fmt,fontSize:26}),
          Plot.axisY({anchor:"right",ticks,tickSize:14,strokeWidth:1.6,...hideText})];
}
function bPanel(left,top,h,yDomain,{ticks,fmt,under=[],over=[],lower=false,extra=[]}){
  return put(left,top,353,h,{
    x:{type:"log",domain:[X.lo,X.hi],axis:null},y:{domain:yDomain,axis:null},
    marks:[...under,Plot.ruleY(ticks.grid,{stroke:"#333",strokeWidth:1}),Plot.ruleX(major,{stroke:"#333",strokeWidth:1,clip:true}),
      ...over,...xTicks("top",false),...(lower?xTicks("bottom",true):[]),...yTicks(ticks.lab,fmt),Plot.frame({stroke:"#000",strokeWidth:4}),...extra]});
}
function legend(left,top,keys){
  const n=keys.length,h=22.7*(n-1);
  return put(left,top,125,h,{x:{domain:[0,125],axis:null},y:{domain:[0,n-1],range:[0,h],axis:null},marks:[
    Plot.text(keys,{x:()=>0,y:(d,i)=>i,textAnchor:"start",lineAnchor:"middle",fontSize:21,fill:"#000",stroke:"#fff",strokeWidth:3}),
    ...keys.map((k,i)=>Plot.ruleY([i],{x1:80,x2:125,strokeWidth:3,...STY[k]}))]});
}
const label=(t,o)=>Plot.text([t],{textAnchor:"middle",lineAnchor:"middle",fill:"#000",...o});

// ---------- panel b ----------
const cols=[
 {id:"A02",left:128,ampTicks:[.10,.09,.08,.07,.06],ampFmt:d3.format(".2f"),ampLow:.05497,
  amp:{"201405":ampA02_201405,"201408":ampA02_201408,"201508":ampA02_201508},
  dAmp:{"201408":dAmpA02_201408,"201508":dAmpA02_201508},err:dAmpErrA02,
  phase:{"201405":phaseA02_201405,"201408":phaseA02_201408,"201508":phaseA02_201508},hi:phaseHiA02,lo:phaseLoA02,
  dPhase:{"201408":dPhaseA02_201408,"201508":dPhaseA02_201508},dHi:dPhaseHiA02,dLo:dPhaseLoA02,
  legAmpTop:1306.7,legPhTop:1757.7,keys:["201405","201408","201508"],legX:136},
 {id:"A04",left:617,ampTicks:[.09,.08,.07,.06,.05],ampFmt:d3.format(".2f"),ampLow:.04497,
  amp:{"201405":ampA04_201405,"201408":ampA04_201408,"201411":ampA04_201411,"201502":ampA04_201502,"201508":ampA04_201508},
  dAmp:{"201408":dAmpA04_201408,"201411":dAmpA04_201411,"201502":dAmpA04_201502,"201508":dAmpA04_201508},err:dAmpErrA04,
  phase:{"201405":phaseA04_201405,"201408":phaseA04_201408,"201411":phaseA04_201411,"201502":phaseA04_201502,"201508":phaseA04_201508},hi:phaseHiA04,lo:phaseLoA04,
  dPhase:{"201408":dPhaseA04_201408,"201411":dPhaseA04_201411,"201502":dPhaseA04_201502,"201508":dPhaseA04_201508},dHi:dPhaseHiA04,dLo:dPhaseLoA04,
  legAmpTop:1261,legPhTop:1712.7,keys:ORDER,legX:625},
 {id:"A01",left:1105.6,ampTicks:[.05,.04,.03,.02,.01],ampFmt:d3.format(".2f"),ampLow:.00497,
  amp:{"201405":ampA01_201405,"201408":ampA01_201408,"201411":ampA01_201411,"201502":ampA01_201502,"201508":ampA01_201508},
  dAmp:{"201408":dAmpA01_201408,"201411":dAmpA01_201411,"201502":dAmpA01_201502,"201508":dAmpA01_201508},err:dAmpErrA01,
  phase:{"201405":phaseA01_201405,"201408":phaseA01_201408,"201411":phaseA01_201411,"201502":phaseA01_201502,"201508":phaseA01_201508},hi:phaseHiA01,lo:phaseLoA01,
  dPhase:{"201408":dPhaseA01_201408,"201411":dPhaseA01_201411,"201502":dPhaseA01_201502,"201508":dPhaseA01_201508},dHi:dPhaseHiA01,dLo:dPhaseLoA01,
  legAmpTop:1261,legPhTop:1712.7,keys:ORDER,legX:1114},
 {id:"A03",left:1594,ampTicks:[.009,.008,.007,.006,.005],ampFmt:d3.format(".3f"),ampLow:.004497,
  amp:{"201405":ampA03_201405,"201408":ampA03_201408},
  dAmp:{"201408":dAmpA03_201408},err:dAmpErrA03,
  phase:{"201405":phaseA03_201405,"201408":phaseA03_201408},hi:phaseHiA03,lo:phaseLoA03,
  dPhase:{"201408":dPhaseA03_201408},dHi:dPhaseHiA03,dLo:dPhaseLoA03,
  legAmpTop:1329,legPhTop:1780,keys:["201405","201408"],legX:1603}];
const GRAY="#c6c6c6";
cols.forEach((c,ci)=>{
  const first=ci===0;
  bPanel(c.left,1112.7,263,[c.ampLow,c.ampTicks[0]],{ticks:{grid:c.ampTicks,lab:c.ampTicks},fmt:c.ampFmt,
    over:seriesMarks(ampF,c.amp),
    extra:[label(c.id,{frameAnchor:"top",dy:-45,dx:-4,fontSize:39}),
      ...(first?[label("Amp [nT/A]",{frameAnchor:"left",rotate:-90,dx:-110,fontSize:32}),
                 Plot.text(["b"],{frameAnchor:"top-left",dx:-127,dy:-75,textAnchor:"start",lineAnchor:"middle",fontSize:36,fontWeight:"bold",fill:"#000"})]:[])]});
  const dampBands=Object.keys(c.dAmp).filter(k=>k==="201408"||k==="201508").map(k=>
    Plot.areaY(fGrid.map((f,i)=>({f,a:c.dAmp[k][i]-c.err[i],b:c.dAmp[k][i]+c.err[i]})),{x:"f",y1:"a",y2:"b",fill:GRAY,clip:true}));
  bPanel(c.left,1375.7,113.3,[-2.05,5.5],{ticks:{grid:[5,4,3,2,1,0,-1,-2],lab:[4,2,0,-2]},fmt:d=>d<0?"−"+(-d):String(d),lower:true,
    under:dampBands,
    over:[Plot.ruleY([0],{x1:1,x2:119,strokeWidth:3,...STY["201405"]}),...seriesMarks(fGrid,c.dAmp)],
    extra:first?[label("dAmp [%]",{frameAnchor:"left",rotate:-90,dx:-88,fontSize:32})]:[]});
  bPanel(c.left,1563.5,262.5,[153.02,180],{ticks:{grid:[180,170,160],lab:[180,170,160]},fmt:d=>String(d),
    under:[Plot.areaY(bandF.map((f,i)=>({f,a:c.lo[i],b:c.hi[i]})),{x:"f",y1:"a",y2:"b",fill:GRAY,clip:true})],
    over:seriesMarks(phaseF,c.phase),
    extra:first?[label("Phase [deg]",{frameAnchor:"left",rotate:-90,dx:-102,fontSize:32})]:[]});
  bPanel(c.left,1826,113.3,[-2.478,2.535],{ticks:{grid:[2,1,0,-1,-2],lab:[2,1,0,-1,-2]},fmt:d=>d<0?"−"+(-d):String(d),lower:true,
    under:[Plot.areaY(fGrid.map((f,i)=>({f,a:c.dLo[i],b:c.dHi[i]})),{x:"f",y1:"a",y2:"b",fill:GRAY,clip:true})],
    over:[Plot.ruleY([0],{x1:1,x2:119,strokeWidth:3,...STY["201405"]}),...seriesMarks(dPhaseF,c.dPhase)],
    extra:[label("Frequency [Hz]",{frameAnchor:"bottom",dy:79,dx:-1,fontSize:32}),
      ...(first?[label("dPhase [deg]",{frameAnchor:"left",rotate:-90,dx:-86,fontSize:32})]:[])]});
  legend(c.legX,c.legAmpTop,c.keys);
  legend(c.legX,c.legPhTop,c.keys);
});

// ---------- panel c ----------
const capSym={draw(ctx,size){const s=Math.sqrt(size/Math.PI);ctx.moveTo(-s,0);ctx.lineTo(s,0);}};
const triLeft={draw(ctx){ctx.moveTo(0,0);ctx.lineTo(27,-8.5);ctx.lineTo(27,8.5);ctx.closePath();}};
const triRight={draw(ctx){ctx.moveTo(0,0);ctx.lineTo(-27,-8.5);ctx.lineTo(-27,8.5);ctx.closePath();}};
const triDown={draw(ctx){ctx.moveTo(0,0);ctx.lineTo(-9,-29);ctx.lineTo(9,-29);ctx.closePath();}};
const bigLeft={draw(ctx){ctx.moveTo(0,0);ctx.lineTo(30,-7.5);ctx.lineTo(30,7.5);ctx.closePath();}};
const bigRight={draw(ctx){ctx.moveTo(0,0);ctx.lineTo(-30,-7.5);ctx.lineTo(-30,7.5);ctx.closePath();}};
function cSeries(months,vals,errs,fill,sym){
  const rows=months.map((m,i)=>({m,v:vals[i],lo:vals[i]-errs[i],hi:vals[i]+errs[i]}));
  return [Plot.line(rows,{x:"m",y:"v",stroke:"#000",strokeWidth:1.6}),
    Plot.ruleX(rows,{x:"m",y1:"lo",y2:"hi",stroke:"#000",strokeWidth:2}),
    Plot.dot(rows,{x:"m",y:"lo",symbol:capSym,r:16,stroke:"#000",strokeWidth:2.4,fill:"none"}),
    Plot.dot(rows,{x:"m",y:"hi",symbol:capSym,r:16,stroke:"#000",strokeWidth:2.4,fill:"none"}),
    Plot.dot(rows,{x:"m",y:"v",stroke:"#000",strokeWidth:2.2,fill,...sym})];
}
const symA02={symbol:"triangle",rotate:180,r:8}, symA04={symbol:"square",r:9.3}, symA01={r:9.8}, symA03={symbol:"square",rotate:45,r:9.4};
function cCommon(yBottomPink){
  return [Plot.rect([{}],{x1:()=>8.7,x2:()=>14.29,y1:()=>yBottomPink,y2:()=>15.519,fill:"#ffc0cb"})];
}
const yT=[...Array(15).keys()].map(d=>d+1);
const cAxes=()=>[
  Plot.axisY({anchor:"left",ticks:yT,tickSize:14,tickPadding:11,strokeWidth:1.6,label:null,fontSize:29}),
  Plot.axisY({anchor:"right",ticks:yT,tickSize:14,strokeWidth:1.6,...hideText}),
  Plot.axisX({anchor:"top",ticks:monthTicks,tickSize:7,strokeWidth:1.6,...hideText})];
const redDash=(y1,y2)=>Plot.ruleX([18.43],{y1:()=>y1,y2:()=>y2,stroke:"#ff0000",strokeWidth:3,strokeDasharray:"15,8"});
const hzBox=(t)=>[Plot.rect([{}],{x1:()=>.1,x2:()=>3.2,y1:()=>14.0,y2:()=>15.42,fill:"#fff",stroke:"#000",strokeWidth:2}),
   label(t,{x:()=>1.6,y:()=>14.68,fontSize:37})];
const sta=(t,m,v)=>label(t,{x:()=>m,y:()=>v,fontSize:29});
put(1218,105,602,376,{x:{domain:[0,20],axis:null},y:{domain:[.521,15.519],axis:null},marks:[
  ...cCommon(.521),redDash(.521,15.519),
  ...cSeries(monthsA02,d21A02,e21A02,"#bebebe",symA02),...cSeries(monthsAll,d21A04,e21A04,"#bebebe",symA04),
  ...cSeries(monthsAll,d21A01,e21A01,"#bebebe",symA01),...cSeries(monthsA03,d21A03,e21A03,"#bebebe",symA03),
  ...hzBox("21Hz"),sta("A02",16.97,14.25),sta("A04",16.97,9.16),sta("A01",16.97,6.0),sta("A03",7.43,2.38),
  ...cAxes(),Plot.frame({stroke:"#000",strokeWidth:4}),
  label("dAmp [%]",{frameAnchor:"left",rotate:-90,dx:-91,fontSize:37}),
  Plot.text(["c"],{frameAnchor:"top-left",dx:-225,dy:-57,textAnchor:"start",lineAnchor:"middle",fontSize:36,fontWeight:"bold",fill:"#000"}),
  label("Eruption on 14Sep2015",{x:()=>14.85,y:()=>19.07,fontSize:29,fill:"#ff0000"}),
  label("Magmatic eruption period",{x:()=>11.5,y:()=>17.27,fontSize:29,fill:"#ff0000"}),
  Plot.ruleY([16.12],{x1:8.7,x2:14.29,stroke:"#ff0000",strokeWidth:2.5}),
  Plot.dot([8.7],{x:d=>d,y:()=>16.12,symbol:triLeft,fill:"#ff0000",stroke:"none"}),
  Plot.dot([14.29],{x:d=>d,y:()=>16.12,symbol:triRight,fill:"#ff0000",stroke:"none"}),
  Plot.ruleX([18.43],{y1:()=>15.519,y2:()=>18.19,stroke:"#ff0000",strokeWidth:3}),
  Plot.dot([18.43],{x:d=>d,y:()=>15.519,symbol:triDown,fill:"#ff0000",stroke:"none"})
]});
put(1218,481,602,436,{x:{domain:[0,20],axis:null},y:{domain:[-1.873,15.519],axis:null},marks:[
  ...cCommon(.496),redDash(-1.873,15.519),
  ...cSeries(monthsA02,d61A02,e61A02,"#00ff00",symA02),...cSeries(monthsAll,d61A04,e61A04,"#00ff00",symA04),
  ...cSeries(monthsAll,d61A01,e61A01,"#00ff00",symA01),...cSeries(monthsA03,d61A03,e61A03,"#00ff00",symA03),
  ...hzBox("61Hz"),sta("A02",16.97,14.28),sta("A04",16.97,9.19),sta("A01",16.97,6.03),sta("A03",7.43,2.4),
  ...cAxes(),Plot.axisX({anchor:"bottom",ticks:monthTicks,tickSize:7,strokeWidth:1.6,...hideText}),
  Plot.frame({stroke:"#000",strokeWidth:4}),
  label("dAmp [%]",{frameAnchor:"left",rotate:-90,dx:-91,dy:-29,fontSize:37})
]});
put(1218,857.6,602,59.4,{x:{domain:[0,20],axis:null},y:{domain:[-7.5,20],axis:null},marks:[
  Plot.rect([{}],{x1:()=>8.7,x2:()=>14.29,y1:()=>-6.6,y2:()=>5.5,fill:"#ffc0cb"}),
  Plot.ruleY([20,10,0],{stroke:"#222",strokeWidth:1}),
  Plot.ruleY([20],{x1:4.47,x2:15.5,stroke:"#a02828",strokeWidth:2}),
  Plot.dot([4.47],{x:d=>d,y:()=>20,symbol:bigLeft,fill:"#c8801e",stroke:"#a02828",strokeWidth:2}),
  Plot.dot([15.5],{x:d=>d,y:()=>20,symbol:bigRight,fill:"#c8801e",stroke:"#a02828",strokeWidth:2}),
  Plot.text(["Crater dried period"],{x:()=>10.97,y:()=>12.8,textAnchor:"middle",lineAnchor:"middle",fontSize:24,fill:"#000",stroke:"#fff",strokeWidth:5}),
  Plot.dot(waterWet,{x:d=>d,y:()=>10,r:3.5,fill:"#0000e0"}),
  Plot.dot(waterDry,{x:d=>d,y:()=>0,r:3.5,fill:"#0000e0"}),
  redDash(-7.5,20),
  Plot.axisY({anchor:"left",ticks:[20,10,0],tickSize:14,strokeWidth:1.6,...hideText}),
  Plot.axisY({anchor:"right",ticks:[20,10,0],tickSize:15,tickPadding:41,textAnchor:"end",strokeWidth:1.6,label:null,fontSize:26}),
  label("Water amount [%]",{frameAnchor:"right",rotate:-90,dx:88,fontSize:29}),
  ...monthLabels.flatMap(([m,a,b])=>[
    Plot.text([a],{x:()=>m,frameAnchor:"bottom",dy:31,textAnchor:"middle",lineAnchor:"middle",fontSize:27,fill:"#000"}),
    Plot.text([b],{x:()=>m,frameAnchor:"bottom",dy:69,textAnchor:"middle",lineAnchor:"middle",fontSize:27,fill:"#000"})])
]});

// ---------- panel a ----------
function rows(lines,ox,oy,prefix){return lines.flatMap((l,i)=>l.map(p=>({x:p[0]+ox,y:p[1]+oy,id:prefix+i})));}
const allContours=[...rows(contoursNW,0,0,"nw"),...rows(contoursNE,900,0,"ne"),...rows(contoursSW,0,1005,"sw"),...rows(contoursSE,900,1005,"se"),
  ...rows([craterOuter,craterOuter2,craterOuter3],0,0,"co")];
const toRect=a=>({x1:a[0],x2:a[1],y1:a[2],y2:a[3]});
put(203,196.4,587,661.6,{
  x:{domain:[9,1770],axis:null},y:{domain:[2004,19],axis:null},
  color:{type:"linear",domain:[1,3,5,7,8,9],range:["#97834a","#b4a053","#cdb85c","#e2cc60","#efdb66","#fbe46b"]},
  marks:[
    Plot.raster(shadeGrid,{width:shadeCols,height:shadeRows,x1:9,x2:1770,y1:19,y2:2004}),
    Plot.line(basinSE.map(p=>({x:p[0]+900,y:p[1]+1005})),{x:"x",y:"y",curve:"linear-closed",fill:"#c8b45b",stroke:"none"}),
    ...craterRings.map(r=>Plot.line(r.pts,{x:d=>d[0],y:d=>d[1],curve:"linear-closed",fill:r.fill,stroke:"#000",strokeWidth:1.3})),
    Plot.line(allContours,{x:"x",y:"y",z:"id",stroke:"#000",strokeWidth:1.4,clip:true}),
    Plot.text(contourLabels,{x:"x",y:"y",text:"t",rotate:"r",fontSize:22,textAnchor:"middle",lineAnchor:"middle",fill:"#111"}),
    Plot.link([{}],{x1:()=>313,y1:()=>248,x2:()=>578,y2:()=>203,stroke:"#ff0000",strokeWidth:4.5}),
    Plot.dot(stations,{x:"x",y:"y",r:10.3,fill:"#ff0000",stroke:"#000",strokeWidth:1.5}),
    Plot.rect(stations,{x1:d=>d.bx[0],x2:d=>d.bx[1],y1:d=>d.by[0],y2:d=>d.by[1],fill:"#fff"}),
    Plot.text(stations,{x:d=>(d.bx[0]+d.bx[1])/2,y:d=>(d.by[0]+d.by[1])/2,text:"name",fontFamily:SERIF,fontSize:28,textAnchor:"middle",lineAnchor:"middle",fill:"#000"}),
    Plot.rect([{}],{x1:()=>608,x2:()=>818,y1:()=>133,y2:()=>218,fill:"#fff"}),
    Plot.text(["TRM"],{x:()=>713,y:()=>176,fontFamily:SERIF,fontSize:28,textAnchor:"middle",lineAnchor:"middle",fill:"#000"}),
    Plot.rect([[862,1242,388,473],[857,1365,473,565]],{x1:d=>d[0],x2:d=>d[1],y1:d=>d[2],y2:d=>d[3],fill:"#fff",fillOpacity:.8}),
    Plot.text(["1st crater"],{x:()=>1052,y:()=>432,fontSize:28,textAnchor:"middle",lineAnchor:"middle",fill:"#333"}),
    Plot.text(["of Nakadake"],{x:()=>1108,y:()=>520,fontSize:29,textAnchor:"middle",lineAnchor:"middle",fill:"#333"}),
    Plot.arrow([{}],{x1:()=>1037,y1:()=>593,x2:()=>962,y2:()=>800,stroke:"#000",strokeWidth:3,headLength:24,headAngle:40,bend:0}),
    Plot.rect([{}],{x1:()=>9,x2:()=>1080,y1:()=>1803,y2:()=>2004,fill:"#fff",fillOpacity:.78}),
    Plot.line([[65,1875],[65,1835],[1010,1835],[1010,1875]],{x:d=>d[0],y:d=>d[1],stroke:"#444",strokeWidth:2.2}),
    Plot.text(["1 km"],{x:()=>540,y:()=>1940,fontSize:25,textAnchor:"middle",lineAnchor:"middle",fill:"#444"}),
    Plot.rect(frameWhite.map(toRect),{x1:"x1",x2:"x2",y1:"y1",y2:"y2",fill:"#fff",stroke:"#000",strokeWidth:1}),
    Plot.rect(frameBlack.map(toRect),{x1:"x1",x2:"x2",y1:"y1",y2:"y2",fill:"#000",stroke:"#000",strokeWidth:1}),
    Plot.axisX({anchor:"bottom",ticks:[9,744,1476],tickSize:0,tickPadding:25,label:null,fontSize:26.5,tickFormat:d=>({9:"131°04'30\"E",744:"131°05'00\"E",1476:"131°05'30\"E"})[d]}),
    Plot.axisY({anchor:"left",ticks:[159,1029,1899],tickSize:0,tickPadding:27,dy:2,label:null,fontSize:26.5,tickFormat:d=>({159:"32°53'30\"N",1029:"32°53'00\"N",1899:"32°52'30\"N"})[d]}),
    Plot.text(["a"],{frameAnchor:"top-left",dx:-202,dy:-148,textAnchor:"start",lineAnchor:"middle",fontSize:36,fontWeight:"bold",fill:"#000"})
  ]});
const landPoly=(p,fill)=>Plot.line(p,{x:d=>d[0],y:d=>d[1],curve:"linear-closed",fill,stroke:"none",clip:true});
const lonLabel=new Map(insetLonTicks), latLabel=new Map(insetLatTicks);
put(661,163,218,235,{
  x:{domain:[63,717],axis:null},
  y:{domain:[864,159],axis:null},
  marks:[Plot.frame({fill:"#fff",stroke:"none"}),
    landPoly(mainland,"#bebebe"),landPoly(lake,"#fff"),landPoly(korea,"#bebebe"),landPoly(sakhalin,"#bebebe"),landPoly(hokkaido,"#bebebe"),landPoly(kurile1,"#bebebe"),landPoly(kurile2,"#bebebe"),landPoly(honshu,"#bebebe"),landPoly(noto,"#bebebe"),landPoly(shikoku,"#bebebe"),landPoly(kyushu,"#bebebe"),
    Plot.dot(asoPoint,{x:d=>d[0],y:d=>d[1],symbol:"triangle",r:6.5,fill:"#ff0000"}),
    Plot.text(["Aso volcano"],{x:()=>397,y:()=>812,fontSize:23.5,textAnchor:"middle",lineAnchor:"middle",fill:"#ff0000"}),
    Plot.axisX({anchor:"top",ticks:[...lonLabel.keys()],tickSize:14,tickPadding:11,strokeWidth:1.6,label:null,fontSize:20,tickFormat:d=>lonLabel.get(d)}),
    Plot.axisX({anchor:"bottom",ticks:[609],tickSize:14,strokeWidth:1.6,...hideText}),
    Plot.axisY({anchor:"right",ticks:[...latLabel.keys()],tickSize:15,tickPadding:8,strokeWidth:1.6,label:null,fontSize:20,tickFormat:d=>latLabel.get(d)}),
    Plot.frame({stroke:"#000",strokeWidth:4})
  ]});
</script></body></html>
